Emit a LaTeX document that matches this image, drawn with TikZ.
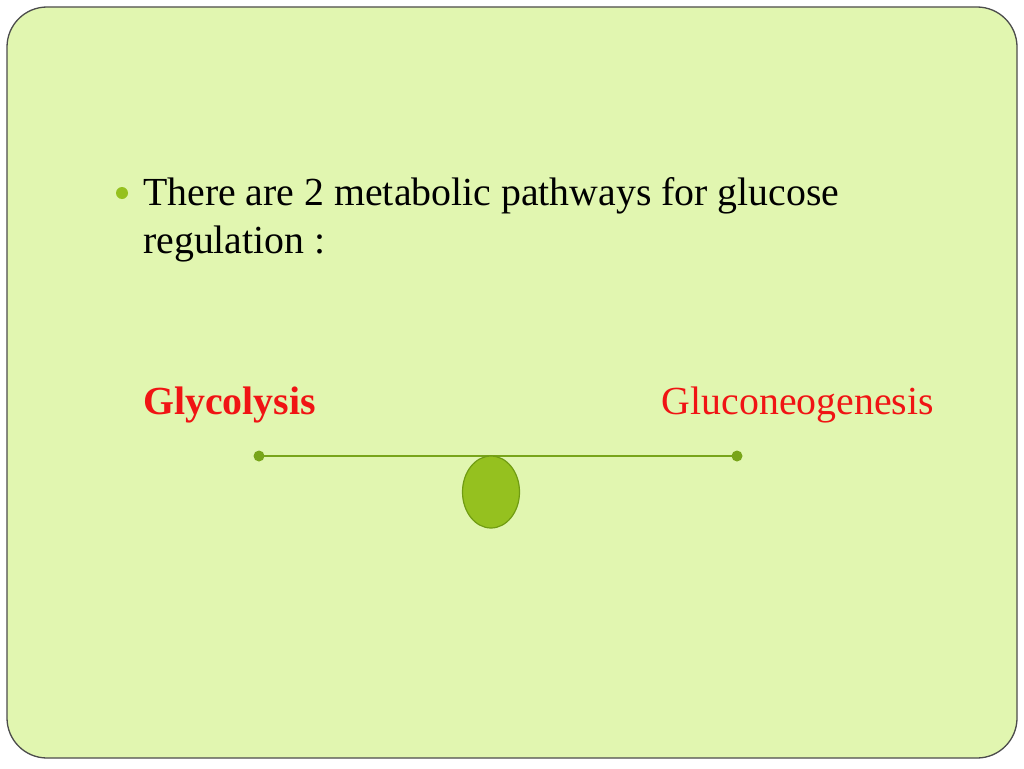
\documentclass[tikz,border=0pt]{standalone}
\usepackage{fontspec}
\setmainfont{Liberation Serif}
\usepackage{tikz}
\usetikzlibrary{shapes}

\definecolor{slidebg}{RGB}{225,246,176}
\definecolor{leaf}{RGB}{149,193,31}
\definecolor{leafdark}{RGB}{112,156,18}
\definecolor{beamline}{RGB}{120,165,26}
\definecolor{pathred}{RGB}{240,20,20}

\begin{document}
\begin{tikzpicture}[x=1pt,y=-1pt,
  txt/.style={inner sep=0pt,font=\fontsize{39.8}{48}\selectfont},
  pathlbl/.style={txt,text=pathred}]
\useasboundingbox (0,0) rectangle (1024,768);
\fill[white] (0,0) rectangle (1024,768);
\draw[fill=slidebg,draw=black!70,line width=1.3pt,rounded corners=40pt] (7,7) rectangle (1017,758);
\fill[leaf] (122,193) circle (6);
\node[txt,anchor=base west] (lineA) at (143,205) {There are 2 metabolic pathways for glucose};
\node[txt,anchor=base west] (lineB) at (143,253) {regulation :};
\node[pathlbl,anchor=base west,font=\fontsize{39.8}{48}\selectfont\bfseries] (glyco) at (143,414) {Glycolysis};
\node[pathlbl,anchor=base east] (gluco) at (934,414) {Gluconeogenesis};
\coordinate (beamL) at (259,456);
\coordinate (beamR) at (737,456);
\draw[beamline,line width=1.8pt] (beamL) -- (beamR);
\fill[beamline] (beamL) circle (5.5);
\fill[beamline] (beamR) circle (5.5);
\node[ellipse,draw=leafdark,fill=leaf,line width=1.2pt,minimum width=57,minimum height=72,inner sep=0pt] (pivot) at (491,492) {};
\end{tikzpicture}
\end{document}
